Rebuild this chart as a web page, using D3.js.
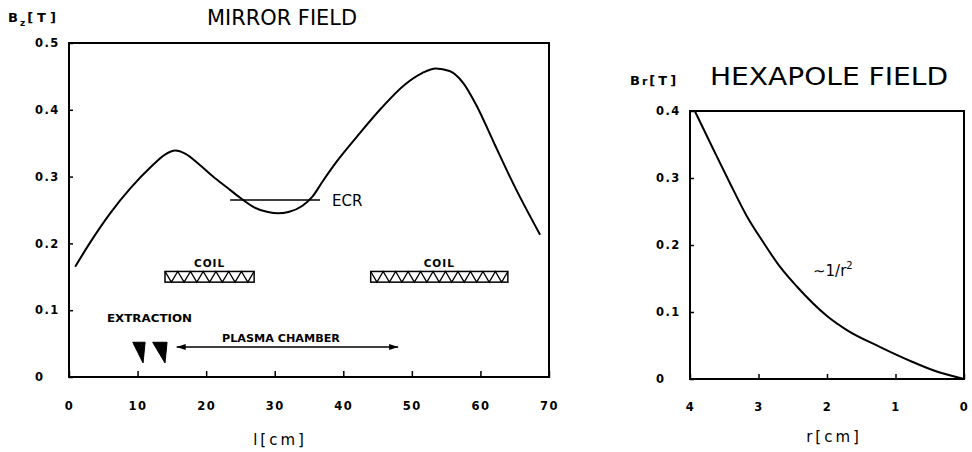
<!DOCTYPE html>
<html>
<head>
<meta charset="utf-8">
<script src="https://cdn.jsdelivr.net/npm/d3@7"></script>
<style>
body{margin:0;background:#fff;}
text{font-family:"DejaVu Sans",sans-serif;fill:#000;}
</style>
</head>
<body>
<script>
// mirror field (axial)
var mirrorL=[0.9,3,6,9,12,14,15.5,17,19,21,23,25,27,29,30.5,32,34,35.5,37,39,42,45.5,49,51.5,53.5,55.5,57.5,59.5,62,65,68.7];
var mirrorB=[0.165,0.2,0.245,0.283,0.315,0.333,0.339,0.334,0.318,0.3,0.284,0.268,0.254,0.247,0.245,0.247,0.256,0.27,0.293,0.322,0.36,0.402,0.438,0.455,0.462,0.458,0.44,0.405,0.35,0.285,0.213];
var mirrorXTicks=[0,10,20,30,40,50,60,70];
var mirrorYTicks=[0,0.1,0.2,0.3,0.4,0.5];

// hexapole field (radial)
var hexR=[3.93,3.66,3.42,3.17,2.93,2.69,2.44,2.0,1.71,1.23,0.74,0.45,0];
var hexB=[0.4,0.343,0.293,0.243,0.204,0.168,0.138,0.094,0.073,0.048,0.025,0.013,0];
var hexXTicks=[4,3,2,1,0];
var hexYTicks=[0,0.1,0.2,0.3,0.4];

// annotations
var coilStart=[14,44], coilEnd=[27,64], coilLow=0.142, coilHigh=0.158;
var ecrL=[23.5,36.6], ecrB=0.265;
var extrL=[[9.3,11.1,10.8],[12.2,14.3,14.0]], extrTop=0.052, extrTip=0.021;
var chamberL=[15.7,48], chamberB=0.045;

var svg=d3.select('body').append('svg').attr('width',972).attr('height',452);

var fmtY=function(d){return d===0?"0":d3.format(".1f")(d);};

function styleAxis(g){
	g.select('.domain').remove();
	g.attr('font-family','"DejaVu Sans",sans-serif').attr('font-size',11.5).attr('font-weight','bold');
	g.selectAll('line').attr('stroke','#000').attr('stroke-width',1.5);
	g.selectAll('text').attr('fill','#000').attr('letter-spacing',1.5);
}

// ---------- left chart ----------
var x1=d3.scaleLinear().domain([0,70]).range([69,549]);
var y1=d3.scaleLinear().domain([0,0.5]).range([377,43]);

var gx1=svg.append('g').attr('transform','translate(0,'+y1(0)+')')
	.call(d3.axisBottom(x1).tickValues(mirrorXTicks).tickSizeInner(-6).tickSizeOuter(0).tickPadding(25).tickFormat(d3.format('d')));
styleAxis(gx1);
var gy1=svg.append('g').attr('transform','translate('+x1(0)+',0)')
	.call(d3.axisLeft(y1).tickValues(mirrorYTicks).tickSizeInner(-4).tickSizeOuter(0).tickPadding(0).tickFormat(fmtY));
styleAxis(gy1);
gy1.selectAll('text').attr('text-anchor','start').attr('x',35-x1(0));

svg.append('rect').attr('x',x1(0)).attr('y',y1(0.5))
	.attr('width',x1(70)-x1(0)).attr('height',y1(0)-y1(0.5))
	.attr('fill','none').attr('stroke','#000').attr('stroke-width',2);

var line1=d3.line().x(function(d){return x1(d[0]);}).y(function(d){return y1(d[1]);}).curve(d3.curveMonotoneX);
svg.append('path').attr('d',line1(d3.zip(mirrorL,mirrorB)))
	.attr('fill','none').attr('stroke','#000').attr('stroke-width',2);

// ECR
svg.append('line').attr('x1',x1(ecrL[0])).attr('x2',x1(ecrL[1])).attr('y1',y1(ecrB)).attr('y2',y1(ecrB))
	.attr('stroke','#000').attr('stroke-width',1.5);
svg.append('text').attr('x',x1(ecrL[1])+12).attr('y',y1(ecrB)+6).attr('font-size',15).text('ECR');

// coils
coilStart.forEach(function(s,i){
	var xa=x1(s), xb=x1(coilEnd[i]), ya=y1(coilHigh), yb=y1(coilLow);
	svg.append('rect').attr('x',xa).attr('y',ya).attr('width',xb-xa).attr('height',yb-ya)
		.attr('fill','none').attr('stroke','#000').attr('stroke-width',1.5);
	var n=Math.round((xb-xa)/12), p=(xb-xa)/n, pts=[];
	for(var k=0;k<=n;k++){
		pts.push([xa+k*p,ya]);
		if(k<n) pts.push([xa+k*p+p/2,yb]);
	}
	svg.append('path').attr('d',d3.line()(pts)).attr('fill','none').attr('stroke','#000').attr('stroke-width',1.3);
	svg.append('text').attr('x',(xa+xb)/2).attr('y',ya-4).attr('text-anchor','middle')
		.attr('font-size',10.5).attr('font-weight','bold').attr('letter-spacing',1).text('COIL');
});

// extraction
svg.append('text').attr('x',107).attr('y',322).attr('font-size',10.5).attr('font-weight','bold')
	.attr('textLength',85).attr('lengthAdjust','spacingAndGlyphs').text('EXTRACTION');
extrL.forEach(function(t){
	svg.append('path')
		.attr('d',d3.line()([[x1(t[0]),y1(extrTop)],[x1(t[1]),y1(extrTop)],[x1(t[2]),y1(extrTip)]])+'Z')
		.attr('fill','#000').attr('stroke','#000').attr('stroke-width',1);
});

// plasma chamber arrow
var ca=x1(chamberL[0]), cb=x1(chamberL[1]), cy=y1(chamberB);
svg.append('line').attr('x1',ca).attr('x2',cb).attr('y1',cy).attr('y2',cy).attr('stroke','#000').attr('stroke-width',1.5);
svg.append('path').attr('d','M'+ca+','+cy+'l9,-3l0,6Z').attr('fill','#000');
svg.append('path').attr('d','M'+cb+','+cy+'l-9,-3l0,6Z').attr('fill','#000');
svg.append('text').attr('x',(222+340)/2).attr('y',342).attr('text-anchor','middle')
	.attr('font-size',10.5).attr('font-weight','bold').attr('textLength',118).attr('lengthAdjust','spacingAndGlyphs').text('PLASMA CHAMBER');

// titles
svg.append('text').attr('x',207).attr('y',25).attr('font-size',22)
	.attr('textLength',150).attr('lengthAdjust','spacingAndGlyphs').text('MIRROR FIELD');
var bz=svg.append('text').attr('x',8).attr('y',22).attr('font-size',13).attr('font-weight','bold').attr('letter-spacing',2);
bz.append('tspan').text('B');
bz.append('tspan').attr('font-size',9).attr('dy',4).text('z');
bz.append('tspan').attr('dy',-4).attr('letter-spacing',4).text('[T]');
svg.append('text').attr('x',280).attr('y',445).attr('text-anchor','middle').attr('font-size',15)
	.attr('letter-spacing',3).text('l[cm]');

// ---------- right chart ----------
var x2=d3.scaleLinear().domain([4,0]).range([690,964]);
var y2=d3.scaleLinear().domain([0,0.4]).range([379,111]);

var gx2=svg.append('g').attr('transform','translate(0,'+y2(0)+')')
	.call(d3.axisBottom(x2).tickValues(hexXTicks).tickSizeInner(-5).tickSizeOuter(0).tickPadding(24).tickFormat(d3.format('d')));
styleAxis(gx2);
var gy2=svg.append('g').attr('transform','translate('+x2(4)+',0)')
	.call(d3.axisLeft(y2).tickValues(hexYTicks).tickSizeInner(-4).tickSizeOuter(0).tickPadding(0).tickFormat(fmtY));
styleAxis(gy2);
gy2.selectAll('text').attr('text-anchor','start').attr('x',656-x2(4));

svg.append('rect').attr('x',x2(4)).attr('y',y2(0.4))
	.attr('width',x2(0)-x2(4)).attr('height',y2(0)-y2(0.4))
	.attr('fill','none').attr('stroke','#000').attr('stroke-width',2);

// monotone curve needs ascending x on screen: sort by pixel position
var hexPts=d3.zip(hexR,hexB).sort(function(a,b){return x2(a[0])-x2(b[0]);});
var line2=d3.line().x(function(d){return x2(d[0]);}).y(function(d){return y2(d[1]);}).curve(d3.curveMonotoneX);
svg.append('path').attr('d',line2(hexPts))
	.attr('fill','none').attr('stroke','#000').attr('stroke-width',2);

var lab=svg.append('text').attr('x',813).attr('y',276).attr('font-size',15);
lab.append('tspan').text('\u223C1/r');
lab.append('tspan').attr('font-size',10).attr('dy',-7).text('2');

svg.append('text').attr('x',710).attr('y',85).attr('font-size',25)
	.attr('textLength',238).attr('lengthAdjust','spacingAndGlyphs').text('HEXAPOLE FIELD');
var br=svg.append('text').attr('x',630).attr('y',85).attr('font-size',13).attr('font-weight','bold').attr('letter-spacing',2);
br.append('tspan').text('B');
br.append('tspan').attr('font-size',11).text('r');
br.append('tspan').attr('letter-spacing',3).text('[T]');
svg.append('text').attr('x',834).attr('y',442).attr('text-anchor','middle').attr('font-size',15)
	.attr('letter-spacing',3).text('r[cm]');
</script>
</body>
</html>
